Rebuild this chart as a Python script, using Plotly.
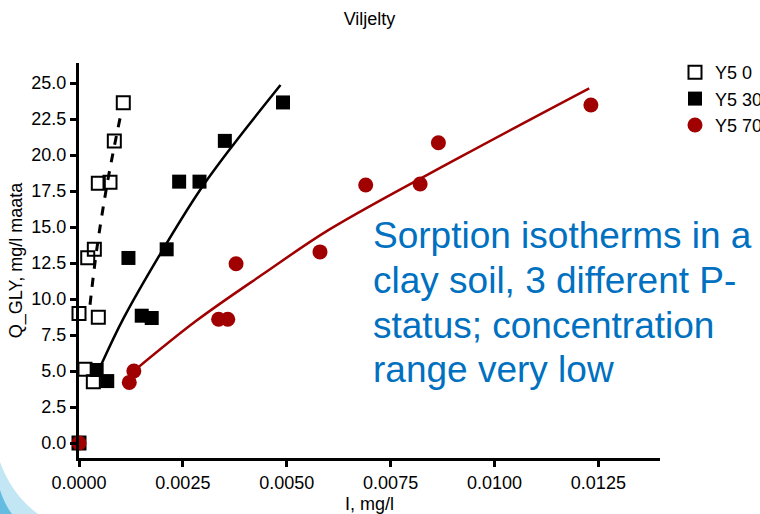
import plotly.graph_objects as go

# ---------------- data ----------------
y5_0_x = [0, 0, 0.000144, 0.000345, 0.00021, 0.000369, 0.000465, 0.000465, 0.000746, 0.00085, 0.001066]
y5_0_y = [0, 9.0, 5.12, 4.26, 12.87, 13.45, 8.73, 18.03, 18.1, 20.97, 23.63]

y5_30_x = [0, 0.000425, 0.00068, 0.00119, 0.00151, 0.00175, 0.00211, 0.00241, 0.00290, 0.00351, 0.00491]
y5_30_y = [0, 5.07, 4.3, 12.85, 8.84, 8.68, 13.45, 18.15, 18.15, 20.98, 23.65]

y5_70_x = [0, 0.00121, 0.00132, 0.00336, 0.00358, 0.00378, 0.0058, 0.0069, 0.00821, 0.00865, 0.01232]
y5_70_y = [0, 4.21, 5.0, 8.59, 8.59, 12.45, 13.27, 17.92, 17.99, 20.85, 23.47]

fit0_x = [0.000265, 0.000425, 0.000666, 0.00085, 0.00102]
fit0_y = [9.6, 13.4, 17.8, 20.6, 23.0]

fit30_x = [0.000545, 0.00107, 0.00195, 0.00291, 0.00371, 0.00485]
fit30_y = [5.5, 8.65, 13.1, 17.55, 20.7, 24.86]

fit70_x = [0.00135, 0.00283, 0.00444, 0.00604, 0.00917, 0.01228]
fit70_y = [5.07, 8.5, 11.75, 14.85, 19.85, 24.63]

x_ticks = [0, 0.0025, 0.005, 0.0075, 0.01, 0.0125]
y_ticks = [0, 2.5, 5, 7.5, 10, 12.5, 15, 17.5, 20, 22.5, 25]

note_lines = ["Sorption isotherms in a", "clay soil, 3 different P-",
              "status; concentration", "range very low"]

# ---------------- layout geometry ----------------
W, H = 760, 514
L, R, T, B = 79, 100, 63, 56
PW, PH = W - L - R, H - T - B


def px(xp):
    return (xp - L) / PW


def py(yp):
    return (H - B - yp) / PH


RED = "#A00000"
BLUE = "#0070C0"
FONT = "Liberation Sans, Arial, Helvetica, sans-serif"

fig = go.Figure()

fig.add_trace(go.Scatter(x=fit0_x, y=fit0_y, mode="lines", line=dict(color="black", width=3, dash="dash", shape="spline"),
                         showlegend=False, hoverinfo="skip"))
fig.add_trace(go.Scatter(x=fit30_x, y=fit30_y, mode="lines", line=dict(color="black", width=2.5, shape="spline"),
                         showlegend=False, hoverinfo="skip"))
fig.add_trace(go.Scatter(x=fit70_x, y=fit70_y, mode="lines", line=dict(color=RED, width=2.5, shape="spline"),
                         showlegend=False, hoverinfo="skip"))

fig.add_trace(go.Scatter(x=y5_0_x, y=y5_0_y, mode="markers", name="Y5 0", cliponaxis=False,
                         marker=dict(symbol="square-open", size=13, color="black", line=dict(width=2))))
fig.add_trace(go.Scatter(x=y5_30_x, y=y5_30_y, mode="markers", name="Y5 30", cliponaxis=False,
                         marker=dict(symbol="square", size=14, color="black")))
fig.add_trace(go.Scatter(x=y5_70_x, y=y5_70_y, mode="markers", name="Y5 70", cliponaxis=False,
                         marker=dict(symbol="circle", size=15, color=RED)))

for i, (line, yc) in enumerate(zip(note_lines, [237, 282, 327, 371])):
    fig.add_annotation(text=line, xref="paper", yref="paper", x=px(371), y=py(yc - 2),
                       xanchor="left", yanchor="middle", showarrow=False,
                       font=dict(family=FONT, size=37, color=BLUE))

# decorative slide swoosh at bottom-left
fig.add_shape(type="path", xref="paper", yref="paper", layer="below",
              path=f"M {px(0)},{py(462)} Q {px(12)},{py(495)} {px(38)},{py(514)} L {px(0)},{py(514)} Z",
              fillcolor="rgba(120,200,230,0.45)", line=dict(width=0))
fig.add_shape(type="path", xref="paper", yref="paper", layer="below",
              path=f"M {px(0)},{py(490)} Q {px(5)},{py(505)} {px(12)},{py(514)} L {px(0)},{py(514)} Z",
              fillcolor="rgba(60,170,215,0.7)", line=dict(width=0))

fig.update_layout(
    width=W, height=H,
    margin=dict(l=L, r=R, t=T, b=B, autoexpand=False),
    paper_bgcolor="white", plot_bgcolor="white",
    font=dict(family=FONT, size=18, color="black"),
    title=dict(text="Viljelty", x=0.5, xref="paper", xanchor="center",
               y=1 - 19 / H, yref="container", yanchor="middle",
               font=dict(family=FONT, size=18, color="black")),
    showlegend=True,
    legend=dict(xref="container", yref="container", x=675 / W, y=1 - 54 / H,
                xanchor="left", yanchor="top",
                font=dict(family=FONT, size=18), tracegroupgap=0,
                bgcolor="rgba(0,0,0,0)", itemsizing="trace"),
    xaxis=dict(range=[0, PW / 41.55 * 0.001], tickvals=x_ticks, tickformat=".4f",
               showgrid=False, zeroline=False, showline=True, linecolor="black", linewidth=3,
               ticks="outside", ticklen=6, tickwidth=2.5, tickcolor="black",
               tickfont=dict(family=FONT, size=18), automargin=False,
               title=dict(text="I, mg/l", font=dict(family=FONT, size=18), standoff=6)),
    yaxis=dict(range=[-(H - B - 443) / 14.4, (443 - T) / 14.4], tickvals=y_ticks, tickformat=".1f",
               showgrid=False, zeroline=False, showline=True, linecolor="black", linewidth=3,
               ticks="outside", ticklen=6, tickwidth=2.5, tickcolor="black",
               tickfont=dict(family=FONT, size=18), automargin=False,
               title=dict(text="Q_GLY, mg/l maata", font=dict(family=FONT, size=18), standoff=5)),
)

fig.write_html("out.html")
